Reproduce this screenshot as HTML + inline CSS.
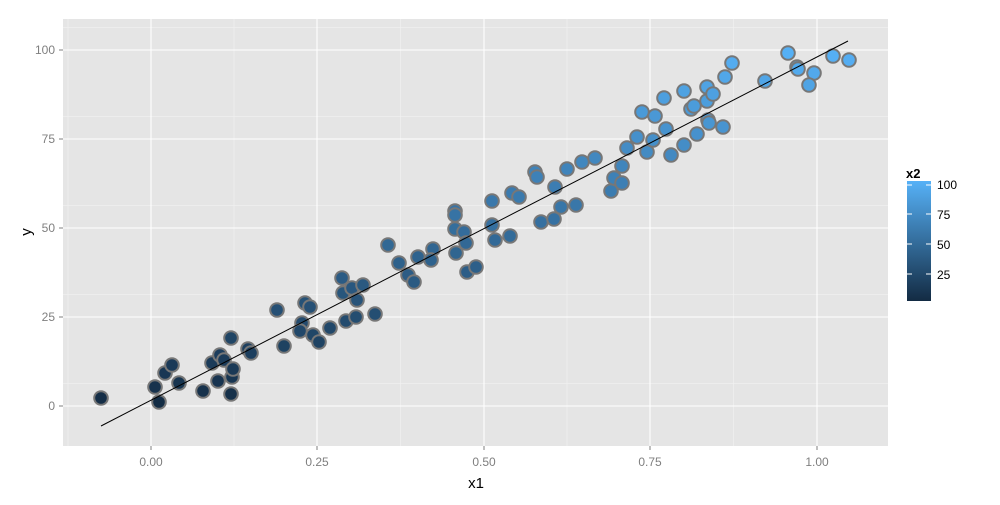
<!DOCTYPE html>
<html><head><meta charset="utf-8"><style>
html,body{margin:0;padding:0;background:#fff;}
svg text{font-family:"Liberation Sans",Arial,sans-serif;}
</style></head><body>
<svg id="s" width="1000" height="500" xmlns="http://www.w3.org/2000/svg">
<defs><linearGradient id="g" x1="0" y1="1" x2="0" y2="0">
<stop offset="0" stop-color="#132B43"/><stop offset="1" stop-color="#56B1F7"/></linearGradient></defs>
<rect x="63" y="19" width="825" height="427" fill="#E5E5E5"/>
<g stroke="#F2F2F2" stroke-width="0.6">
<line x1="63" x2="888" y1="383.7" y2="383.7"/><line x1="63" x2="888" y1="294.7" y2="294.7"/><line x1="63" x2="888" y1="205.7" y2="205.7"/><line x1="63" x2="888" y1="116.7" y2="116.7"/><line x1="63" x2="888" y1="27.7" y2="27.7"/>
<line y1="19" y2="446" x1="68" x2="68"/><line y1="19" y2="446" x1="234" x2="234"/><line y1="19" y2="446" x1="400.5" x2="400.5"/><line y1="19" y2="446" x1="567" x2="567"/><line y1="19" y2="446" x1="733.5" x2="733.5"/>
</g>
<g stroke="#FFFFFF" stroke-width="1.1">
<line x1="63" x2="888" y1="406" y2="406"/><line x1="63" x2="888" y1="317" y2="317"/><line x1="63" x2="888" y1="228" y2="228"/><line x1="63" x2="888" y1="139" y2="139"/><line x1="63" x2="888" y1="50" y2="50"/>
<line y1="19" y2="446" x1="151" x2="151"/><line y1="19" y2="446" x1="317" x2="317"/><line y1="19" y2="446" x1="484" x2="484"/><line y1="19" y2="446" x1="650" x2="650"/><line y1="19" y2="446" x1="817" x2="817"/>
</g>
<g id="pts"></g>
<line x1="101" y1="426" x2="848" y2="41" stroke="#000" stroke-width="1"/>
<g stroke="#7F7F7F" stroke-width="1">
<line x1="59" x2="63" y1="406" y2="406"/><line x1="59" x2="63" y1="317" y2="317"/><line x1="59" x2="63" y1="228" y2="228"/><line x1="59" x2="63" y1="139" y2="139"/><line x1="59" x2="63" y1="50" y2="50"/>
<line y1="446" y2="450" x1="151" x2="151"/><line y1="446" y2="450" x1="317" x2="317"/><line y1="446" y2="450" x1="484" x2="484"/><line y1="446" y2="450" x1="650" x2="650"/><line y1="446" y2="450" x1="817" x2="817"/>
</g>
<g fill="#7F7F7F" font-size="12" text-anchor="end">
<text x="55" y="410">0</text><text x="55" y="321">25</text><text x="55" y="232">50</text><text x="55" y="143">75</text><text x="55" y="54">100</text>
</g>
<g fill="#7F7F7F" font-size="12" text-anchor="middle">
<text x="151" y="466">0.00</text><text x="317" y="466">0.25</text><text x="484" y="466">0.50</text><text x="650" y="466">0.75</text><text x="817" y="466">1.00</text>
</g>
<text x="476" y="488" font-size="15" text-anchor="middle" fill="#000">x1</text>
<text transform="translate(31,232) rotate(-90)" font-size="15" text-anchor="middle" fill="#000">y</text>
<text x="906" y="178" font-size="13" font-weight="bold" fill="#000">x2</text>
<rect x="907" y="181" width="24" height="120" fill="url(#g)"/>
<g stroke="#fff" stroke-width="1">
<line x1="907" x2="912" y1="185" y2="185"/><line x1="926" x2="931" y1="185" y2="185"/>
<line x1="907" x2="912" y1="214" y2="214"/><line x1="926" x2="931" y1="214" y2="214"/>
<line x1="907" x2="912" y1="244" y2="244"/><line x1="926" x2="931" y1="244" y2="244"/>
<line x1="907" x2="912" y1="274" y2="274"/><line x1="926" x2="931" y1="274" y2="274"/>
</g>
<g font-size="12" fill="#000">
<text x="937" y="189">100</text><text x="937" y="219">75</text><text x="937" y="249">50</text><text x="937" y="279">25</text>
</g>
</svg>
<script>
var p=[[101,398],[159,402],[155,387],[165,373],[172,365],[179,383],[203,391],[212,363],[220,355],[224,360],[218,381],[231,394],[232,377],[233,369],[231,338],[248,349],[251,353],[277,310],[284,346],[302,323],[300,331],[305,303],[310,307],[313,335],[319,342],[330,328],[342,278],[343,293],[352,288],[357,300],[363,285],[346,321],[356,317],[375,314],[388,245],[399,263],[408,275],[414,282],[418,257],[433,249],[431,260],
[455,211],[455,215],[455,229],[464,232],[466,243],[456,253],[467,272],[476,267],[492,201],[492,225],[495,240],[510,236],[512,193],[519,197],[541,222],[554,219],[561,207],[576,205],[555,187],[535,172],[537,177],[567,169],[582,162],[595,158],[611,191],[614,178],[622,183],[622,166],[627,148],[637,137],[647,152],[653,140],[671,155],[684,145],[697,134],[666,129],[642,112],[655,116],[664,98],[684,91],[691,109],[694,106],[707,101],[707,87],[713,94],[708,120],[709,123],[723,127],[725,77],[732,63],[765,81],[788,53],[797,67],[798,69],[814,73],[809,85],[833,56],[849,60]];
var a=[0x13,0x2B,0x43],b=[0x56,0xB1,0xF7],h="";
p.forEach(function(q){var t=(406-q[1])/356;t=Math.max(0,Math.min(1,t));
var c=a.map(function(v,i){return Math.round(v+(b[i]-v)*t)});
h+='<circle cx="'+q[0]+'" cy="'+q[1]+'" r="6.8" fill="rgb('+c.join(',')+')" stroke="#777" stroke-width="2"/>';});
document.getElementById("pts").innerHTML=h;
</script>
</body></html>
